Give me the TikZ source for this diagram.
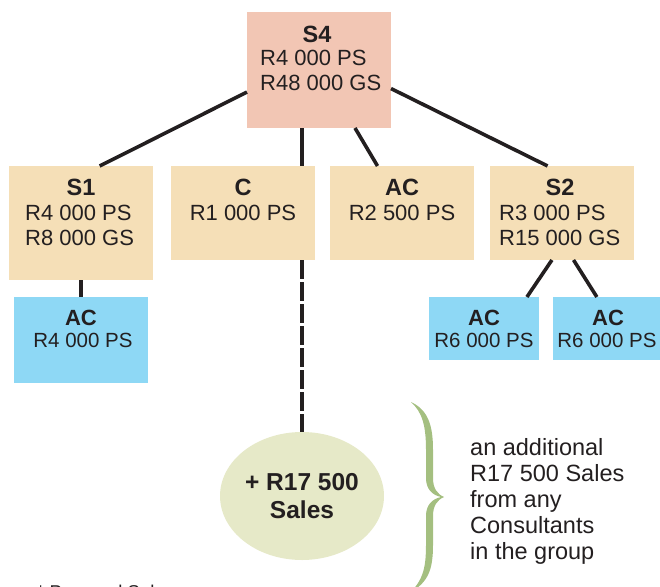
\documentclass[tikz,border=0pt]{standalone}
\usepackage{fontspec}
\setmainfont{Liberation Sans}
\usetikzlibrary{calc,shapes.geometric}
\definecolor{ink}{HTML}{231F20}
\definecolor{salmon}{HTML}{F2C6B4}
\definecolor{sand}{HTML}{F5DFB7}
\definecolor{sky}{HTML}{8ED8F5}
\definecolor{pale}{HTML}{E6E9C8}
\definecolor{leaf}{HTML}{A4BF80}
\tikzset{
  link/.style={draw=ink, line width=3.6pt},
  dashlink/.style={link, dash pattern=on 19pt off 3pt},
  tile/.style={rectangle, draw=none, inner sep=0pt, outer sep=0pt},
  topbox/.style={tile, fill=salmon},
  sandbox/.style={tile, fill=sand},
  skybox/.style={tile, fill=sky},
  ttl/.style={anchor=base, inner sep=0pt, text=ink, font=\fontsize{23.5}{26}\selectfont\bfseries},
  txt/.style={anchor=base west, inner sep=0pt, text=ink, font=\fontsize{22}{25}\selectfont},
  ctxt/.style={txt, anchor=base},
  sttl/.style={ttl, font=\fontsize{22}{24}\selectfont\bfseries},
  stxt/.style={ctxt, font=\fontsize{20.5}{22}\selectfont},
  bigttl/.style={ttl, font=\fontsize{24.5}{28}\selectfont\bfseries},
  side/.style={txt, font=\fontsize{23.5}{26}\selectfont},
  foot/.style={txt, font=\fontsize{18.5}{20}\selectfont},
}
\begin{document}
\begin{tikzpicture}[x=1pt,y=-1pt]
\useasboundingbox (0,0) rectangle (660,586);
\clip (0,0) rectangle (660,586);

% boxes
\node[topbox, minimum width=144pt, minimum height=116pt] (s4) at (319,70) {};
\node[sandbox, minimum width=144pt, minimum height=114pt] (s1) at (81,223) {};
\node[sandbox, minimum width=144pt, minimum height=94pt] (c) at (243,213) {};
\node[sandbox, minimum width=144pt, minimum height=94pt] (acm) at (402,213) {};
\node[sandbox, minimum width=144pt, minimum height=94pt] (s2) at (562,213) {};
\node[skybox, minimum width=134pt, minimum height=86pt] (ac1) at (81,340) {};
\node[skybox, minimum width=110pt, minimum height=63pt] (ac3) at (484,328.5) {};
\node[skybox, minimum width=107pt, minimum height=63pt] (ac4) at (606.5,328.5) {};
\node[ellipse, fill=pale, draw=none, inner sep=0pt, outer sep=0pt,
      minimum width=164pt, minimum height=128pt] (sales) at (302,496) {};

% connectors
\draw[link] ($(s4.south west)!0.31!(s4.north west)$) -- ($(s1.north west)!0.63!(s1.north east)$);
\draw[link] ($(s4.south east)!0.34!(s4.north east)$) -- ($(s2.north west)!0.40!(s2.north east)$);
\draw[link] (sales.north |- s4.south) -- (sales.north |- c.north);
\draw[link] ($(s4.south west)!0.75!(s4.south east)$) -- ($(acm.north west)!0.33!(acm.north east)$);
\draw[link] (s1.south) -- (ac1.north);
\draw[link] ($(s2.south west)!0.43!(s2.south east)$) -- ($(ac3.north west)!0.89!(ac3.north east)$);
\draw[link] ($(s2.south west)!0.58!(s2.south east)$) -- ($(ac4.north west)!0.41!(ac4.north east)$);
\draw[dashlink] (sales.north |- c.south) -- (sales.north);

% box texts
\node[ttl] (s4t) at (317,42) {S4};
\node[txt] (s4a) at (260,65) {R4 000 PS};
\node[txt] (s4b) at (260,90) {R48 000 GS};

\node[ttl] (s1t) at (81,195) {S1};
\node[txt] (s1a) at (25,220) {R4 000 PS};
\node[txt] (s1b) at (25,245) {R8 000 GS};

\node[ttl] (ct) at (243,195) {C};
\node[ctxt] (ca) at (243,220) {R1 000 PS};

\node[ttl] (acmt) at (402,195) {AC};
\node[ctxt] (acma) at (402,220) {R2 500 PS};

\node[ttl] (s2t) at (560,195) {S2};
\node[txt] (s2a) at (499,220) {R3 000 PS};
\node[txt] (s2b) at (499,245) {R15 000 GS};

\node[sttl] (ac1t) at (81,325) {AC};
\node[stxt] (ac1a) at (83,347) {R4 000 PS};
\node[sttl] (ac3t) at (484,325) {AC};
\node[stxt] (ac3a) at (484,347) {R6 000 PS};
\node[sttl] (ac4t) at (608,325) {AC};
\node[stxt] (ac4a) at (607,347) {R6 000 PS};

\node[bigttl] (salesa) at (302,490) {+ R17 500};
\node[bigttl] (salesb) at (302,518) {Sales};

% curly brace
\fill[leaf] (411,402) .. controls (428,410) and (433,425) .. (433,450)
  -- (433,478) .. controls (433,488) and (437,494) .. (444,497)
  .. controls (437,500) and (433,506) .. (433,516)
  -- (433,545) .. controls (433,570) and (428,582) .. (411,592)
  .. controls (422,580) and (426,570) .. (426,545)
  -- (426,516) .. controls (426,505) and (432,499) .. (441,497)
  .. controls (432,495) and (426,489) .. (426,478)
  -- (426,450) .. controls (426,425) and (422,412) .. (411,402) -- cycle;

% note beside the brace
\node[side] (n1) at (470,455) {an additional};
\node[side] (n2) at (470,481) {R17 500 Sales};
\node[side] (n3) at (470,507) {from any};
\node[side] (n4) at (470,533) {Consultants};
\node[side] (n5) at (470,559) {in the group};

% footnote, running off the lower edge
\node[foot] (fn) at (37,598) {* Personal Sales};
\end{tikzpicture}
\end{document}
